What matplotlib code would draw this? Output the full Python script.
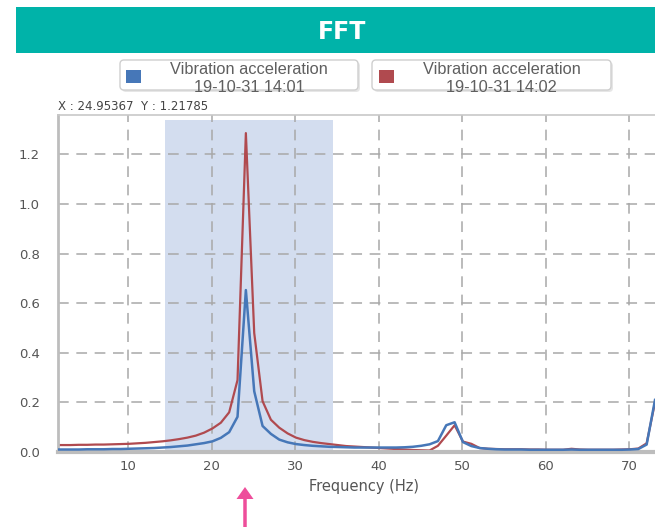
import numpy as np
from matplotlib import pyplot as plt
from matplotlib.patches import FancyBboxPatch, Rectangle, FancyArrow

# FFT bins (Hz) and amplitudes
freq = np.arange(1.1, 74.0, 1.0)

accel_1401 = [
    0.010, 0.010, 0.010, 0.010, 0.011, 0.011, 0.011, 0.012, 0.012, 0.013,
    0.014, 0.015, 0.016, 0.018, 0.020, 0.023, 0.026, 0.031, 0.036, 0.043,
    0.057, 0.080, 0.142, 0.653, 0.245, 0.105, 0.073, 0.050, 0.039, 0.032,
    0.028, 0.025, 0.023, 0.021, 0.020, 0.019, 0.018, 0.018, 0.018, 0.018,
    0.018, 0.018, 0.019, 0.021, 0.025, 0.031, 0.044, 0.108, 0.120, 0.040,
    0.024, 0.016, 0.013, 0.011, 0.010, 0.010, 0.010, 0.009, 0.009, 0.009,
    0.009, 0.009, 0.010, 0.009, 0.009, 0.009, 0.009, 0.009, 0.009, 0.010,
    0.012, 0.030, 0.210,
]

accel_1402 = [
    0.028, 0.028, 0.028, 0.029, 0.029, 0.030, 0.030, 0.031, 0.032, 0.033,
    0.035, 0.037, 0.040, 0.043, 0.047, 0.052, 0.058, 0.066, 0.078, 0.095,
    0.118, 0.160, 0.290, 1.286, 0.480, 0.205, 0.130, 0.098, 0.075, 0.058,
    0.048, 0.041, 0.036, 0.032, 0.028, 0.024, 0.022, 0.020, 0.018, 0.016,
    0.014, 0.012, 0.010, 0.008, 0.007, 0.006, 0.025, 0.066, 0.108, 0.042,
    0.033, 0.016, 0.013, 0.012, 0.011, 0.011, 0.011, 0.010, 0.010, 0.009,
    0.009, 0.009, 0.013, 0.010, 0.009, 0.009, 0.009, 0.009, 0.010, 0.011,
    0.014, 0.035, 0.200,
]

series_labels = ["Vibration acceleration\n19-10-31 14:01",
                 "Vibration acceleration\n19-10-31 14:02"]
band = (14.4, 34.5)
x_ticks = [10, 20, 30, 40, 50, 60, 70]
y_ticks = [0.0, 0.2, 0.4, 0.6, 0.8, 1.0, 1.2]

blue = "#4677b8"
red = "#b04a4f"

W, H = 655, 527
fig = plt.figure(figsize=(W / 100, H / 100), dpi=100)

# overlay in pixel coordinates for header, legend boxes and arrow
over = fig.add_axes([0, 0, 1, 1])
over.set_xlim(0, W)
over.set_ylim(H, 0)
over.axis("off")

over.add_patch(Rectangle((16, 7), W - 16, 46, color="#00b3a9", lw=0))
over.text(342, 32, "FFT", color="white", fontsize=17, fontweight="bold",
          ha="center", va="center", family="DejaVu Sans")

legend_boxes = [(120, 358, 126, blue), (372, 611, 379, red)]
for (x0, x1, sq, col), lab in zip(legend_boxes, series_labels):
    over.add_patch(FancyBboxPatch((x0 + 2, 62), x1 - x0, 30,
                                  boxstyle="round,pad=0,rounding_size=4",
                                  fc="#e6e6e6", ec="none"))
    over.add_patch(FancyBboxPatch((x0, 60), x1 - x0, 30,
                                  boxstyle="round,pad=0,rounding_size=4",
                                  fc="white", ec="#cfcfcf", lw=1))
    over.add_patch(Rectangle((sq, 70), 15, 13, color=col, lw=0))
    top, bottom = lab.split("\n")
    cx = (x0 + 20 + x1) / 2
    over.text(cx, 69, top, ha="center", va="center", fontsize=11.8,
              color="#5f5f5f", family="Liberation Sans")
    over.text(cx, 88, bottom, ha="center", va="center", fontsize=11.8,
              color="#5f5f5f", family="Liberation Sans")

over.text(58, 106, "X : 24.95367  Y : 1.21785", ha="left", va="center",
          fontsize=8.5, color="#444444", family="DejaVu Sans")

over.add_patch(FancyArrow(245, 527, 0, -40, width=3.5, head_width=17,
                          head_length=12, length_includes_head=True,
                          color="#ee4e9b", lw=0))

over.text(364, 487, "Frequency (Hz)", ha="center", va="center",
          fontsize=10.5, color="#555555", family="DejaVu Sans")

# main chart
ax = fig.add_axes([58 / W, 1 - 452 / H, 1 - 58 / W, (452 - 115) / H])
ax.set_xlim(1.6, 73.1)
ax.set_ylim(0, 1.359)
ax.set_axisbelow(True)
ax.axvspan(band[0], band[1], ymin=0, ymax=1.339 / 1.359, color="#d3ddef",
           lw=0, zorder=0.2)
ax.plot(freq, accel_1402, color=red, lw=1.6, zorder=2)
ax.plot(freq, accel_1401, color=blue, lw=1.8, zorder=3)

ax.set_xticks(x_ticks)
ax.set_yticks(y_ticks)
ax.set_yticklabels([f"{v:.1f}" for v in y_ticks])
ax.tick_params(length=0, labelsize=9.5, labelcolor="#555555", pad=6)
ax.tick_params(axis="y", pad=13)
for lab in ax.get_xticklabels() + ax.get_yticklabels():
    lab.set_family("DejaVu Sans")
ax.grid(True, color="#a8a8a8", lw=1.1, linestyle=(0, (7, 5)))

ax.spines["right"].set_visible(False)
ax.spines["top"].set_color("#c8c8c8")
ax.spines["top"].set_linewidth(1.2)
ax.spines["left"].set_color("#bdbdbd")
ax.spines["left"].set_linewidth(2)
ax.spines["bottom"].set_color("#bdbdbd")
ax.spines["bottom"].set_linewidth(3)

fig.savefig("out.png", dpi=100)
plt.close(fig)
